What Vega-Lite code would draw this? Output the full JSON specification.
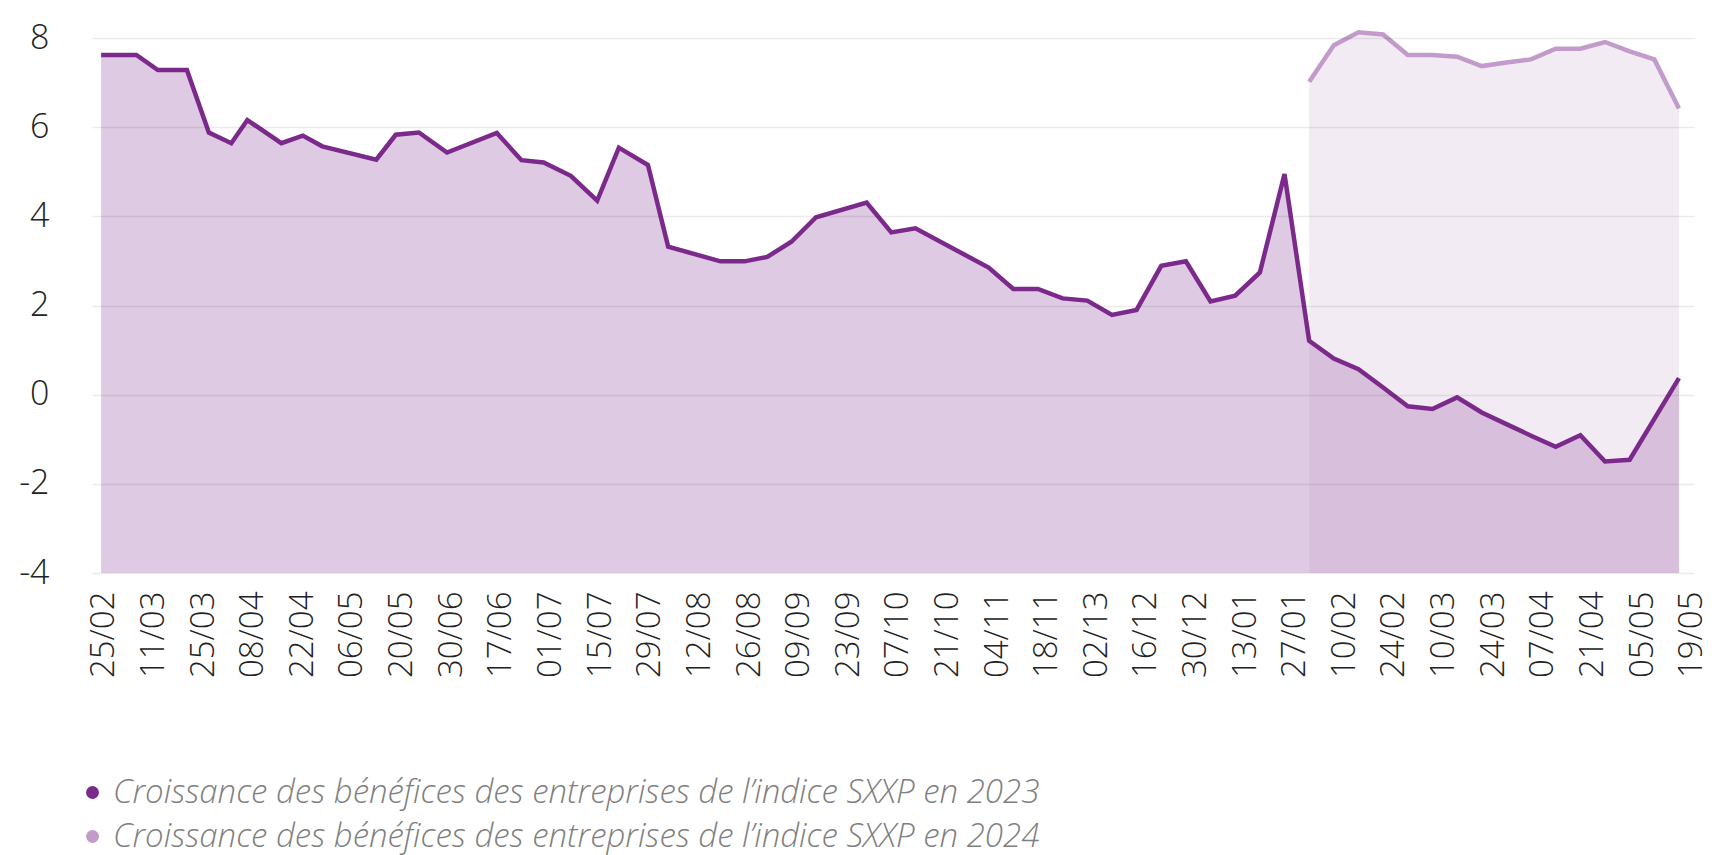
{
  "$schema": "https://vega.github.io/schema/vega-lite/v6.json",
  "autosize": {"type": "none"},
  "width": 1602,
  "height": 535,
  "padding": {"left": 92, "top": 38, "right": 24, "bottom": 282},
  "background": "#ffffff",
  "config": {
    "view": {"stroke": null},
    "font": "Open Sans"
  },
  "data": {
    "values": [
      {"serie": "Croissance des bénéfices des entreprises de l’indice SXXP en 2023", "k": 0, "v": 7.62},
      {"serie": "Croissance des bénéfices des entreprises de l’indice SXXP en 2023", "k": 1.43, "v": 7.62},
      {"serie": "Croissance des bénéfices des entreprises de l’indice SXXP en 2023", "k": 2.3, "v": 7.28},
      {"serie": "Croissance des bénéfices des entreprises de l’indice SXXP en 2023", "k": 3.48, "v": 7.28},
      {"serie": "Croissance des bénéfices des entreprises de l’indice SXXP en 2023", "k": 4.37, "v": 5.88},
      {"serie": "Croissance des bénéfices des entreprises de l’indice SXXP en 2023", "k": 5.28, "v": 5.64},
      {"serie": "Croissance des bénéfices des entreprises de l’indice SXXP en 2023", "k": 5.93, "v": 6.16},
      {"serie": "Croissance des bénéfices des entreprises de l’indice SXXP en 2023", "k": 7.31, "v": 5.64},
      {"serie": "Croissance des bénéfices des entreprises de l’indice SXXP en 2023", "k": 8.18, "v": 5.81},
      {"serie": "Croissance des bénéfices des entreprises de l’indice SXXP en 2023", "k": 8.97, "v": 5.57},
      {"serie": "Croissance des bénéfices des entreprises de l’indice SXXP en 2023", "k": 11.16, "v": 5.27},
      {"serie": "Croissance des bénéfices des entreprises de l’indice SXXP en 2023", "k": 11.95, "v": 5.83},
      {"serie": "Croissance des bénéfices des entreprises de l’indice SXXP en 2023", "k": 12.89, "v": 5.88},
      {"serie": "Croissance des bénéfices des entreprises de l’indice SXXP en 2023", "k": 14.03, "v": 5.43},
      {"serie": "Croissance des bénéfices des entreprises de l’indice SXXP en 2023", "k": 16.05, "v": 5.87},
      {"serie": "Croissance des bénéfices des entreprises de l’indice SXXP en 2023", "k": 17.05, "v": 5.26},
      {"serie": "Croissance des bénéfices des entreprises de l’indice SXXP en 2023", "k": 17.95, "v": 5.21},
      {"serie": "Croissance des bénéfices des entreprises de l’indice SXXP en 2023", "k": 19.05, "v": 4.91},
      {"serie": "Croissance des bénéfices des entreprises de l’indice SXXP en 2023", "k": 20.12, "v": 4.35},
      {"serie": "Croissance des bénéfices des entreprises de l’indice SXXP en 2023", "k": 21.0, "v": 5.54},
      {"serie": "Croissance des bénéfices des entreprises de l’indice SXXP en 2023", "k": 22.18, "v": 5.15},
      {"serie": "Croissance des bénéfices des entreprises de l’indice SXXP en 2023", "k": 23.0, "v": 3.32},
      {"serie": "Croissance des bénéfices des entreprises de l’indice SXXP en 2023", "k": 25.12, "v": 2.99},
      {"serie": "Croissance des bénéfices des entreprises de l’indice SXXP en 2023", "k": 26.1, "v": 2.99},
      {"serie": "Croissance des bénéfices des entreprises de l’indice SXXP en 2023", "k": 27.02, "v": 3.09},
      {"serie": "Croissance des bénéfices des entreprises de l’indice SXXP en 2023", "k": 28.0, "v": 3.43},
      {"serie": "Croissance des bénéfices des entreprises de l’indice SXXP en 2023", "k": 29.0, "v": 3.98},
      {"serie": "Croissance des bénéfices des entreprises de l’indice SXXP en 2023", "k": 31.05, "v": 4.31},
      {"serie": "Croissance des bénéfices des entreprises de l’indice SXXP en 2023", "k": 32.05, "v": 3.64},
      {"serie": "Croissance des bénéfices des entreprises de l’indice SXXP en 2023", "k": 33.03, "v": 3.73},
      {"serie": "Croissance des bénéfices des entreprises de l’indice SXXP en 2023", "k": 36.0, "v": 2.85},
      {"serie": "Croissance des bénéfices des entreprises de l’indice SXXP en 2023", "k": 37.0, "v": 2.37},
      {"serie": "Croissance des bénéfices des entreprises de l’indice SXXP en 2023", "k": 38.0, "v": 2.37},
      {"serie": "Croissance des bénéfices des entreprises de l’indice SXXP en 2023", "k": 39.0, "v": 2.16},
      {"serie": "Croissance des bénéfices des entreprises de l’indice SXXP en 2023", "k": 40.0, "v": 2.11},
      {"serie": "Croissance des bénéfices des entreprises de l’indice SXXP en 2023", "k": 41.0, "v": 1.79},
      {"serie": "Croissance des bénéfices des entreprises de l’indice SXXP en 2023", "k": 42.0, "v": 1.9},
      {"serie": "Croissance des bénéfices des entreprises de l’indice SXXP en 2023", "k": 43.0, "v": 2.89},
      {"serie": "Croissance des bénéfices des entreprises de l’indice SXXP en 2023", "k": 44.0, "v": 2.99},
      {"serie": "Croissance des bénéfices des entreprises de l’indice SXXP en 2023", "k": 45.0, "v": 2.09},
      {"serie": "Croissance des bénéfices des entreprises de l’indice SXXP en 2023", "k": 46.0, "v": 2.22},
      {"serie": "Croissance des bénéfices des entreprises de l’indice SXXP en 2023", "k": 47.0, "v": 2.74},
      {"serie": "Croissance des bénéfices des entreprises de l’indice SXXP en 2023", "k": 48.0, "v": 4.95},
      {"serie": "Croissance des bénéfices des entreprises de l’indice SXXP en 2023", "k": 49.0, "v": 1.21},
      {"serie": "Croissance des bénéfices des entreprises de l’indice SXXP en 2023", "k": 50.0, "v": 0.81},
      {"serie": "Croissance des bénéfices des entreprises de l’indice SXXP en 2023", "k": 51.0, "v": 0.57},
      {"serie": "Croissance des bénéfices des entreprises de l’indice SXXP en 2023", "k": 52.0, "v": 0.16},
      {"serie": "Croissance des bénéfices des entreprises de l’indice SXXP en 2023", "k": 53.0, "v": -0.26},
      {"serie": "Croissance des bénéfices des entreprises de l’indice SXXP en 2023", "k": 54.0, "v": -0.32},
      {"serie": "Croissance des bénéfices des entreprises de l’indice SXXP en 2023", "k": 55.0, "v": -0.06},
      {"serie": "Croissance des bénéfices des entreprises de l’indice SXXP en 2023", "k": 56.0, "v": -0.4},
      {"serie": "Croissance des bénéfices des entreprises de l’indice SXXP en 2023", "k": 57.0, "v": -0.66},
      {"serie": "Croissance des bénéfices des entreprises de l’indice SXXP en 2023", "k": 58.0, "v": -0.92},
      {"serie": "Croissance des bénéfices des entreprises de l’indice SXXP en 2023", "k": 59.0, "v": -1.17},
      {"serie": "Croissance des bénéfices des entreprises de l’indice SXXP en 2023", "k": 60.0, "v": -0.91},
      {"serie": "Croissance des bénéfices des entreprises de l’indice SXXP en 2023", "k": 61.0, "v": -1.5},
      {"serie": "Croissance des bénéfices des entreprises de l’indice SXXP en 2023", "k": 62.0, "v": -1.46},
      {"serie": "Croissance des bénéfices des entreprises de l’indice SXXP en 2023", "k": 64.0, "v": 0.37},
      {"serie": "\u00a0Croissance des bénéfices des entreprises de l’indice SXXP en 2024", "k": 49, "v": 7.02},
      {"serie": "\u00a0Croissance des bénéfices des entreprises de l’indice SXXP en 2024", "k": 50, "v": 7.84},
      {"serie": "\u00a0Croissance des bénéfices des entreprises de l’indice SXXP en 2024", "k": 51, "v": 8.13},
      {"serie": "\u00a0Croissance des bénéfices des entreprises de l’indice SXXP en 2024", "k": 52, "v": 8.08},
      {"serie": "\u00a0Croissance des bénéfices des entreprises de l’indice SXXP en 2024", "k": 53, "v": 7.62},
      {"serie": "\u00a0Croissance des bénéfices des entreprises de l’indice SXXP en 2024", "k": 54, "v": 7.62},
      {"serie": "\u00a0Croissance des bénéfices des entreprises de l’indice SXXP en 2024", "k": 55, "v": 7.58},
      {"serie": "\u00a0Croissance des bénéfices des entreprises de l’indice SXXP en 2024", "k": 56, "v": 7.37},
      {"serie": "\u00a0Croissance des bénéfices des entreprises de l’indice SXXP en 2024", "k": 57, "v": 7.45},
      {"serie": "\u00a0Croissance des bénéfices des entreprises de l’indice SXXP en 2024", "k": 58, "v": 7.52},
      {"serie": "\u00a0Croissance des bénéfices des entreprises de l’indice SXXP en 2024", "k": 59, "v": 7.76},
      {"serie": "\u00a0Croissance des bénéfices des entreprises de l’indice SXXP en 2024", "k": 60, "v": 7.76},
      {"serie": "\u00a0Croissance des bénéfices des entreprises de l’indice SXXP en 2024", "k": 61, "v": 7.91},
      {"serie": "\u00a0Croissance des bénéfices des entreprises de l’indice SXXP en 2024", "k": 62, "v": 7.7},
      {"serie": "\u00a0Croissance des bénéfices des entreprises de l’indice SXXP en 2024", "k": 63, "v": 7.52},
      {"serie": "\u00a0Croissance des bénéfices des entreprises de l’indice SXXP en 2024", "k": 64, "v": 6.42}
    ]
  },
  "encoding": {
    "x": {
      "field": "k",
      "type": "quantitative",
      "scale": {"domain": [-0.37, 64.61], "nice": false, "zero": false},
      "axis": {
        "title": null,
        "values": [0.11, 2.12, 4.14, 6.15, 8.16, 10.17, 12.19, 14.2, 16.21, 18.23, 20.24, 22.25, 24.26, 26.28, 28.29, 30.3, 32.31, 34.33, 36.34, 38.35, 40.37, 42.38, 44.39, 46.4, 48.42, 50.43, 52.44, 54.45, 56.47, 58.48, 60.49, 62.51, 64.52],
        "labelExpr": "['25/02','11/03','25/03','08/04','22/04','06/05','20/05','30/06','17/06','01/07','15/07','29/07','12/08','26/08','09/09','23/09','07/10','21/10','04/11','18/11','02/13','16/12','30/12','13/01','27/01','10/02','24/02','10/03','24/03','07/04','21/04','05/05','19/05'][round((datum.value - 0.11) / 2.0128)]",
        "labelAngle": -90,
        "labelFont": "Open Sans",
        "labelFontSize": 33,
        "labelFontWeight": 300,
        "labelColor": "#222222",
        "labelPadding": 18,
        "labelOverlap": false,
        "labelBound": false,
        "labelFlush": false,
        "ticks": false,
        "domain": false,
        "grid": false
      }
    },
    "y": {
      "field": "v",
      "type": "quantitative",
      "scale": {"domain": [-4, 8], "nice": false, "zero": false},
      "axis": {
        "title": null,
        "values": [-4, -2, 0, 2, 4, 6, 8],
        "labelExpr": "datum.value < 0 ? '-' + abs(datum.value) : '' + datum.value",
        "labelFont": "Open Sans",
        "labelFontSize": 34,
        "labelFontWeight": 300,
        "labelColor": "#222222",
        "labelPadding": 43,
        "ticks": false,
        "domain": false,
        "grid": true,
        "gridColor": "#000000",
        "gridOpacity": 0.08,
        "gridWidth": 1.5,
        "zindex": 1
      }
    },
    "color": {
      "field": "serie",
      "type": "nominal",
      "scale": {
        "domain": ["Croissance des bénéfices des entreprises de l’indice SXXP en 2023", "\u00a0Croissance des bénéfices des entreprises de l’indice SXXP en 2024"],
        "range": ["#7b2a8c", "#c39bca"]
      },
      "legend": {
        "title": null,
        "orient": "none",
        "legendX": -16,
        "legendY": 738,
        "direction": "vertical",
        "symbolType": "circle",
        "symbolSize": 130,
        "labelFont": "Open Sans",
        "labelFontSize": 33,
        "labelFontStyle": "italic",
        "labelFontWeight": 300,
        "labelColor": "#7f7f7f",
        "labelLimit": 0,
        "labelOffset": 4,
        "rowPadding": 10,
        "encode": {
          "symbols": {
            "update": {
              "fill": {"scale": "color", "field": "value"},
              "stroke": {"value": "transparent"},
              "opacity": {"value": 1},
              "fillOpacity": {"value": 1}
            }
          }
        }
      }
    }
  },
  "layer": [
    {
      "mark": {"type": "area", "interpolate": "linear"},
      "encoding": {
        "y2": {"datum": -4},
        "fillOpacity": {
          "field": "serie",
          "type": "nominal",
          "scale": {
            "domain": ["Croissance des bénéfices des entreprises de l’indice SXXP en 2023", "\u00a0Croissance des bénéfices des entreprises de l’indice SXXP en 2024"],
            "range": [0.25, 0.2]
          },
          "legend": null
        }
      }
    },
    {
      "mark": {"type": "line", "strokeWidth": 4.5, "interpolate": "linear"},
      "encoding": {}
    }
  ]
}
